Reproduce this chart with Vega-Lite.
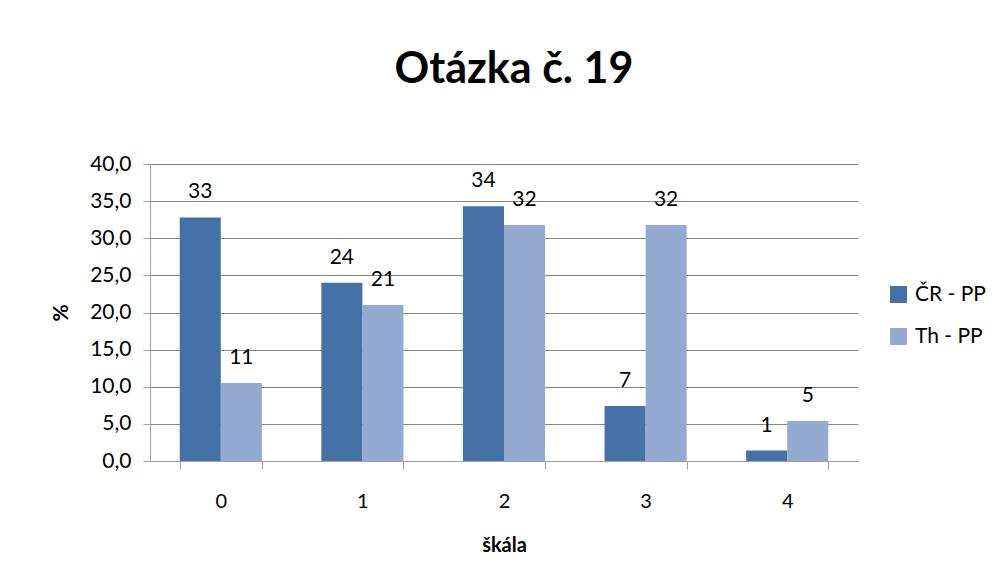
{
  "$schema": "https://vega.github.io/schema/vega-lite/v6.json",
  "width": 708,
  "height": 297,
  "autosize": {"type": "none"},
  "padding": {"left": 150, "top": 164, "right": 150, "bottom": 122},
  "background": "white",
  "title": {"text": "Otázka č. 19", "font": "Lato", "fontSize": 43, "fontWeight": "bold", "color": "#000000", "offset": 27, "anchor": "middle", "dx": 10, "baseline": "alphabetic"},
  "data": {"values": [
    {"skala": "0", "serie": "ČR - PP", "hodnota": 32.8},
    {"skala": "0", "serie": "Th - PP", "hodnota": 10.5},
    {"skala": "1", "serie": "ČR - PP", "hodnota": 24.0},
    {"skala": "1", "serie": "Th - PP", "hodnota": 21.0},
    {"skala": "2", "serie": "ČR - PP", "hodnota": 34.3},
    {"skala": "2", "serie": "Th - PP", "hodnota": 31.8},
    {"skala": "3", "serie": "ČR - PP", "hodnota": 7.4},
    {"skala": "3", "serie": "Th - PP", "hodnota": 31.8},
    {"skala": "4", "serie": "ČR - PP", "hodnota": 1.4},
    {"skala": "4", "serie": "Th - PP", "hodnota": 5.4}
  ]},
  "encoding": {
    "x": {"field": "skala", "type": "nominal", "title": "škála",
      "scale": {"paddingInner": 0.42, "paddingOuter": 0.21},
      "axis": {"labelAngle": 0, "labelFont": "Lato", "labelFontSize": 20, "labelColor": "#000000", "labelPadding": 22,
        "tickBand": "extent", "tickSize": 8, "tickColor": "#A0A0A0", "domainColor": "#A0A0A0",
        "titleFont": "Lato", "titleFontSize": 20, "titleFontWeight": "bold", "titleColor": "#000000", "titlePadding": 24}},
    "xOffset": {"field": "serie", "type": "nominal", "sort": ["ČR - PP", "Th - PP"]},
    "y": {"field": "hodnota", "type": "quantitative", "title": "%",
      "scale": {"domain": [0, 40]},
      "axis": {"values": [0, 5, 10, 15, 20, 25, 30, 35, 40], "format": ".1f", "formatType": "number",
        "labelExpr": "replace(datum.label, '.', ',')",
        "labelFont": "Lato", "labelFontSize": 21, "labelColor": "#000000", "labelPadding": 12,
        "tickSize": 7, "tickColor": "#A0A0A0", "domainColor": "#A0A0A0",
        "grid": true, "gridColor": "#868686", "gridWidth": 1,
        "titleFont": "Lato", "titleFontSize": 21, "titleFontWeight": "bold", "titleColor": "#000000", "titlePadding": 18}}
  },
  "layer": [
    {"mark": {"type": "bar"},
     "encoding": {"color": {"field": "serie", "type": "nominal", "sort": ["ČR - PP", "Th - PP"],
       "scale": {"domain": ["ČR - PP", "Th - PP"], "range": ["#4571A7", "#95AAD0"]},
       "legend": {"title": null, "orient": "none", "legendX": 738, "legendY": 120, "symbolType": "square", "symbolSize": 289,
         "symbolStrokeWidth": 0, "labelFont": "Lato", "labelFontSize": 21, "labelColor": "#000000", "rowPadding": 20, "labelOffset": 6}}}},
    {"mark": {"type": "text", "font": "Lato", "fontSize": 21, "color": "#000000", "baseline": "alphabetic", "dy": -19},
     "encoding": {"text": {"field": "hodnota", "type": "quantitative", "format": ".0f"}}}
  ],
  "config": {"view": {"stroke": null}, "axis": {"domainWidth": 1}}
}
